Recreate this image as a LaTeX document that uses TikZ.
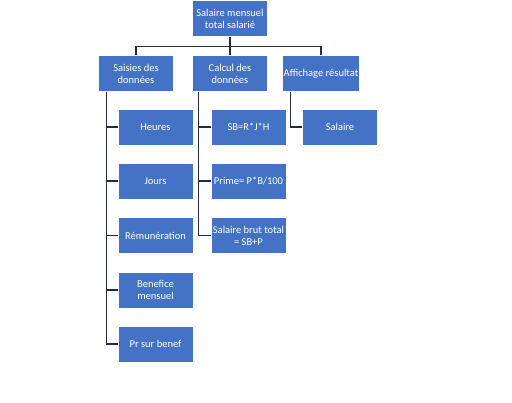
\documentclass[tikz,border=0pt]{standalone}
\usepackage{fontspec}
\setmainfont{Carlito}
\usetikzlibrary{positioning}
\definecolor{office_blue}{RGB}{68, 114, 196}
\definecolor{link_grey}{RGB}{35, 45, 65}

\begin{document}
\begin{tikzpicture}[x=1pt, y=-1pt,
      box/.style={draw=white, line width=0.6pt, fill=office_blue, text=white,
        minimum width=75pt, minimum height=36pt, inner sep=1pt, align=center,
        font=\fontsize{10.5}{12}\selectfont},
      link/.style={draw=link_grey, line width=1.1pt}]

    \useasboundingbox (0,0) rectangle (512,403);

    %% ---- top and first level --------------------------------------------
    \node[box] (total) at (230, 18.5) {Salaire mensuel\\total salarié};

    \node[box] (saisies)   at (136, 73.5) {Saisies des\\données};
    \node[box] (calcul)    at (230, 73.5) {Calcul des\\données};
    \node[box] (affichage) at (321, 73.5) {Affichage résultat};

    %% ---- saisies des donnees --------------------------------------------
    \node[box] (heures)   at (155.5, 127)   {Heures};
    \node[box] (jours)    at (155.5, 181)   {Jours};
    \node[box] (remun)    at (155.5, 235.5) {Rémunération};
    \node[box] (benefice) at (155.5, 290)   {Benefice\\mensuel};
    \node[box] (pr)       at (155.5, 344)   {Pr sur benef};

    %% ---- calcul des donnees ---------------------------------------------
    \node[box] (sb)    at (248.5, 127)   {SB=R*J*H};
    \node[box] (prime) at (248.5, 181)   {Prime= P*B/100};
    \node[box] (brut)  at (248.5, 235.5) {Salaire brut total\\= SB+P};

    %% ---- affichage ------------------------------------------------------
    \node[box] (salaire) at (340, 127) {Salaire};

    %% ---- links ----------------------------------------------------------
    \draw[link] (total.south) -- ++(0,10) coordinate (hub);
    \draw[link] (hub) -| (saisies.north);
    \draw[link] (hub) -- (calcul.north);
    \draw[link] (hub) -| (affichage.north);

    \foreach \kid in {heures, jours, remun, benefice, pr}
      \draw[link] ([xshift=8pt]saisies.south west) |- (\kid.west);
    \foreach \kid in {sb, prime, brut}
      \draw[link] ([xshift=6pt]calcul.south west) |- (\kid.west);
    \draw[link] ([xshift=8pt]affichage.south west) |- (salaire.west);
  \end{tikzpicture}
\end{document}
